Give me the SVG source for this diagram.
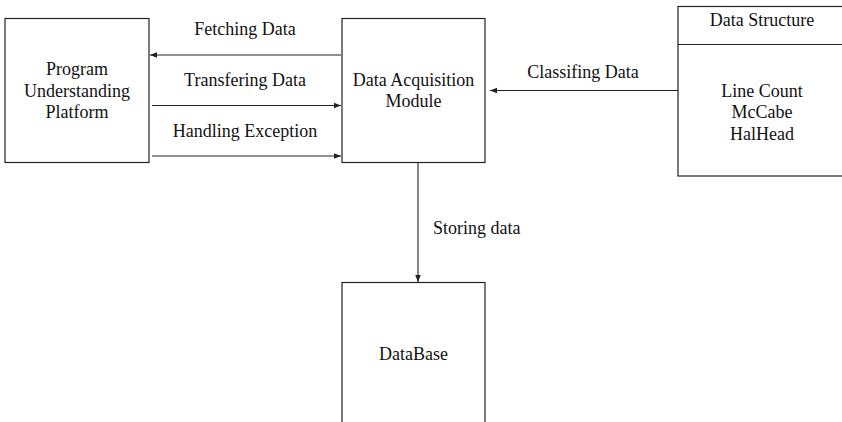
<svg xmlns="http://www.w3.org/2000/svg" width="842" height="422" viewBox="0 0 842 422">
<defs>
<marker id="ah" viewBox="0 0 10 10" refX="10" refY="5" markerWidth="7" markerHeight="7" markerUnits="userSpaceOnUse" orient="auto">
<path d="M0,1 L10,5 L0,9 Z" fill="#222"/>
</marker>
</defs>
<rect width="842" height="422" fill="#fff"/>
<g id="connectors" stroke="#222" stroke-width="1.2" fill="none">
<line x1="341" y1="55" x2="150" y2="55" marker-end="url(#ah)"/>
<line x1="152" y1="105.5" x2="341" y2="105.5" marker-end="url(#ah)"/>
<line x1="152" y1="156" x2="341" y2="156" marker-end="url(#ah)"/>
<line x1="678" y1="90.5" x2="490" y2="90.5" marker-end="url(#ah)"/>
<line x1="418" y1="163" x2="418" y2="282" stroke="#666" stroke-width="1.6" marker-end="url(#ah)"/>
</g>
<g id="labels" fill="#111" stroke="none">
<text x="245" y="35" font-family="Liberation Serif" font-size="18" text-anchor="middle" style="font-family:'Liberation Serif',serif">Fetching Data</text>
<text x="245" y="86" font-family="Liberation Serif" font-size="18" text-anchor="middle" style="font-family:'Liberation Serif',serif">Transfering Data</text>
<text x="245" y="137" font-family="Liberation Serif" font-size="18" text-anchor="middle" style="font-family:'Liberation Serif',serif">Handling Exception</text>
<text x="583" y="78" font-family="Liberation Serif" font-size="18" text-anchor="middle" style="font-family:'Liberation Serif',serif">Classifing Data</text>
<text x="433" y="234" font-family="Liberation Serif" font-size="18" style="font-family:'Liberation Serif',serif">Storing data</text>
</g>
<g id="program">
<rect x="5" y="18.5" width="144" height="144" fill="#fff" stroke="#222" stroke-width="1.2"/>
<text x="77" y="75" font-family="Liberation Serif" font-size="18" text-anchor="middle" fill="#111" style="font-family:'Liberation Serif',serif">Program</text>
<text x="77" y="96.5" font-family="Liberation Serif" font-size="18" text-anchor="middle" fill="#111" style="font-family:'Liberation Serif',serif">Understanding</text>
<text x="77" y="118" font-family="Liberation Serif" font-size="18" text-anchor="middle" fill="#111" style="font-family:'Liberation Serif',serif">Platform</text>
</g>
<g id="dam">
<rect x="342" y="18.5" width="143" height="144" fill="#fff" stroke="#222" stroke-width="1.2"/>
<text x="413.5" y="85.5" font-family="Liberation Serif" font-size="18" text-anchor="middle" fill="#111" style="font-family:'Liberation Serif',serif">Data Acquisition</text>
<text x="413.5" y="107" font-family="Liberation Serif" font-size="18" text-anchor="middle" fill="#111" style="font-family:'Liberation Serif',serif">Module</text>
</g>
<g id="datastructure">
<rect x="678" y="6.5" width="180" height="169.5" fill="#fff" stroke="#222" stroke-width="1.2"/>
<line x1="678" y1="44.5" x2="858" y2="44.5" stroke="#222" stroke-width="1.2"/>
<text x="762" y="26" font-family="Liberation Serif" font-size="18" text-anchor="middle" fill="#111" style="font-family:'Liberation Serif',serif">Data Structure</text>
<text x="762" y="97" font-family="Liberation Serif" font-size="18" text-anchor="middle" fill="#111" style="font-family:'Liberation Serif',serif">Line Count</text>
<text x="762" y="118" font-family="Liberation Serif" font-size="18" text-anchor="middle" fill="#111" style="font-family:'Liberation Serif',serif">McCabe</text>
<text x="762" y="139.5" font-family="Liberation Serif" font-size="18" text-anchor="middle" fill="#111" style="font-family:'Liberation Serif',serif">HalHead</text>
</g>
<g id="database">
<rect x="342" y="282.5" width="143" height="160" fill="#fff" stroke="#222" stroke-width="1.2"/>
<text x="413.5" y="360" font-family="Liberation Serif" font-size="18" text-anchor="middle" fill="#111" style="font-family:'Liberation Serif',serif">DataBase</text>
</g>
</svg>
